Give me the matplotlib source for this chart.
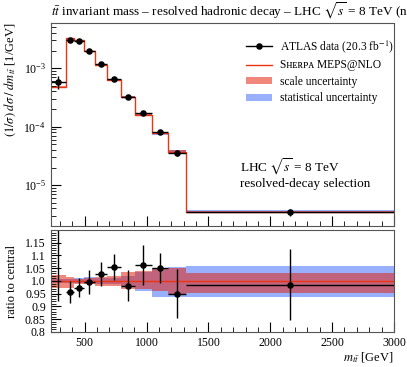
import numpy as np
import matplotlib
matplotlib.use("Agg")
from matplotlib import pyplot as plt
from matplotlib.lines import Line2D
from matplotlib.patches import Patch
from matplotlib.ticker import MultipleLocator, FixedLocator, NullFormatter

plt.rcParams['font.family'] = ['Liberation Serif', 'DejaVu Serif']
plt.rcParams['mathtext.fontset'] = 'stix'
plt.rcParams['font.size'] = 9

# bin edges in m_tt [GeV]
edges = [225, 345, 415, 495, 580, 680, 790, 910, 1040, 1175, 1320, 3000]

# Sherpa MEPS@NLO central prediction
mc = [4.8e-4, 3.24e-3, 3.03e-3, 1.97e-3, 1.14e-3, 6.25e-4, 3.28e-4, 1.6e-4, 7.8e-5, 3.75e-5, 3.52e-6]
# ATLAS data and its error (relative to central MC)
data = [5.86e-4, 3.10e-3, 2.95e-3, 1.96e-3, 1.17e-3, 6.59e-4, 3.22e-4, 1.70e-4, 8.2e-5, 3.56e-5, 3.47e-6]
data_relerr = [0.30, 0.045, 0.038, 0.047, 0.047, 0.050, 0.062, 0.079, 0.060, 0.096, 0.14]

# uncertainty bands relative to central
scale_up = [0.022, 0.017, 0.008, 0.010, 0.017, 0.020, 0.035, 0.040, 0.050, 0.050, 0.030]
scale_dn = [0.028, 0.026, 0.010, 0.012, 0.020, 0.020, 0.030, 0.030, 0.040, 0.050, 0.048]
stat_up = [0.008, 0.008, 0.012, 0.014, 0.010, 0.012, 0.020, 0.035, 0.050, 0.055, 0.059]
stat_dn = [0.008, 0.008, 0.008, 0.010, 0.010, 0.012, 0.020, 0.040, 0.062, 0.062, 0.061]

red = '#ee3311'
stat_col = '#99b0ff'
scale_col = (0.89, 0.12, 0.03, 0.53)

edges = np.array(edges)
mc = np.array(mc)
data = np.array(data)
centers = 0.5 * (edges[1:] + edges[:-1])
xerr = 0.5 * (edges[1:] - edges[:-1])
ratio = data / mc

fig = plt.figure(figsize=(4.07, 3.67), dpi=100)
ax = fig.add_axes([0.1246, 0.3842, 0.8434, 0.5538])
rax = fig.add_axes([0.1246, 0.0954, 0.8434, 0.2779])

# main panel
ax.stairs(mc * (1 + np.array(stat_up)), edges, baseline=mc * (1 - np.array(stat_dn)),
          fill=True, color=stat_col, lw=0)
ax.stairs(mc * (1 + np.array(scale_up)), edges, baseline=mc * (1 - np.array(scale_dn)),
          fill=True, color=scale_col, lw=0)
ax.stairs(mc, edges, color=red, lw=1.0, baseline=None)
ax.errorbar(centers, data, xerr=xerr, yerr=np.array(data_relerr) * mc, fmt='o',
            color='black', ms=3.7, elinewidth=1.0, capsize=0)
ax.set_yscale('log')
ax.set_xlim(225, 3000)
ax.set_ylim(2.0e-6, 6.0e-3)
ax.set_ylabel(r'$(1/\sigma)\;d\sigma\;/\;dm_{t\bar{t}}$ [1/GeV]', fontsize=9, loc='top')
ax.xaxis.set_major_locator(MultipleLocator(500))
ax.xaxis.set_minor_locator(MultipleLocator(100))
ax.xaxis.set_major_formatter(NullFormatter())
ax.tick_params(which='both', direction='in', top=False, right=False, labelsize=8.5)
ax.tick_params(which='major', length=7.5)
ax.tick_params(which='minor', length=3.5)

handles = [Line2D([], [], color='black', marker='o', ms=3.7, lw=1.0),
           Line2D([], [], color=red, lw=1.0),
           Patch(facecolor=(0.94, 0.53, 0.48), edgecolor='none'),
           Patch(facecolor=stat_col, edgecolor='none')]
labels = [r'ATLAS data (20.3 fb$^{-1}$)', 'Sʜᴇʀᴘᴀ MEPS@NLO',
          'scale uncertainty', 'statistical uncertainty']
ax.legend(handles, labels, loc='upper right', frameon=False, fontsize=8.3,
          handlelength=2.3, handleheight=0.55, handletextpad=0.65, labelspacing=0.38,
          borderpad=0.2, borderaxespad=0, bbox_to_anchor=(1.005, 0.935))

ax.text(0.55, 0.292, r'LHC $\sqrt{s}$ = 8 TeV', transform=ax.transAxes, fontsize=9.5,
        va='center')
ax.text(0.55, 0.207, 'resolved-decay selection', transform=ax.transAxes, fontsize=9.5,
        va='center')

fig.text(0.1246, 0.972, r'$t\bar{t}$ invariant mass – resolved hadronic decay – LHC $\sqrt{s}$ = 8 TeV (normalised)',
         fontsize=9.5, ha='left', va='center')

# ratio panel
rax.stairs(1 + np.array(stat_up), edges, baseline=1 - np.array(stat_dn),
           fill=True, color=stat_col, lw=0)
rax.stairs(1 + np.array(scale_up), edges, baseline=1 - np.array(scale_dn),
           fill=True, color=scale_col, lw=0)
rax.stairs(mc / mc, edges, color=red, lw=1.0, baseline=None)
rax.errorbar(centers, ratio, xerr=xerr, yerr=data_relerr, fmt='o',
             color='black', ms=3.7, elinewidth=1.0, capsize=0)
rax.set_xlim(225, 3000)
rax.set_ylim(0.8, 1.2)
rax.xaxis.set_major_locator(MultipleLocator(500))
rax.xaxis.set_minor_locator(MultipleLocator(100))
rax.yaxis.set_major_locator(FixedLocator([0.8, 0.85, 0.9, 0.95, 1.0, 1.05, 1.1, 1.15]))
rax.set_yticklabels(['0.8', '0.85', '0.9', '0.95', '1.0', '1.05', '1.1', '1.15'])
rax.yaxis.set_minor_locator(MultipleLocator(0.01))
rax.tick_params(which='both', direction='in', top=False, right=False, labelsize=8.5)
rax.tick_params(which='major', length=7.5)
rax.tick_params(which='minor', length=3.5)
rax.set_ylabel('ratio to central', fontsize=9)
rax.set_xlabel(r'$m_{t\bar{t}}$ [GeV]', fontsize=9, loc='right', labelpad=1)

for a in (ax, rax):
    for s in a.spines.values():
        s.set_color('#555555')
        s.set_linewidth(0.8)

ax.yaxis.set_label_coords(-0.095, 1.0)
rax.yaxis.set_label_coords(-0.095, 0.5)

fig.savefig('out.png', dpi=100)
